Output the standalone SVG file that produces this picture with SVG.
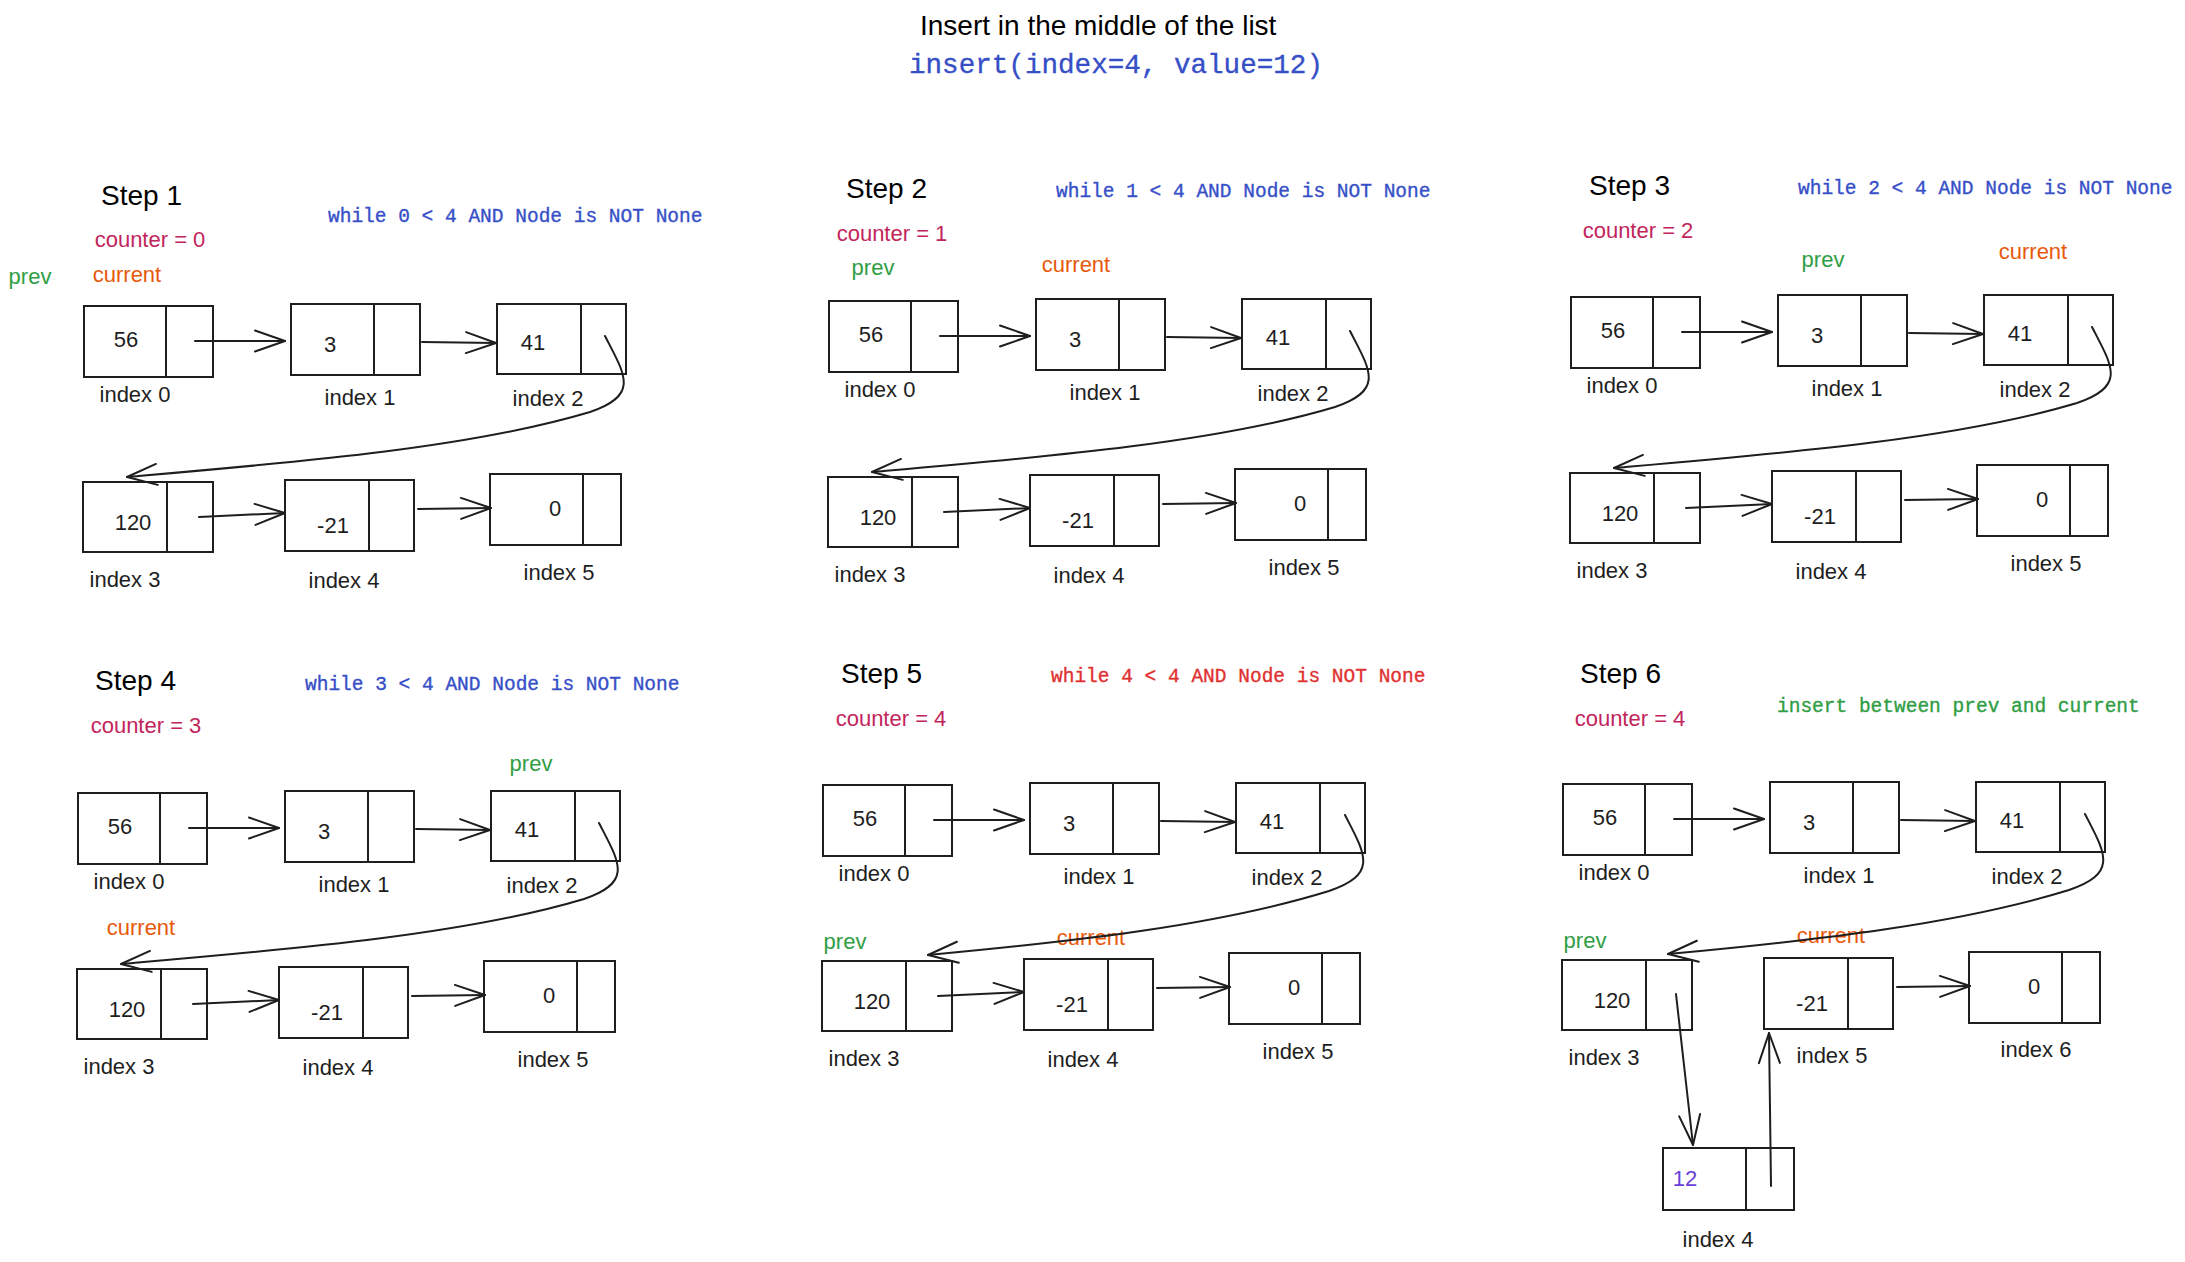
<svg xmlns="http://www.w3.org/2000/svg" width="2185" height="1262" viewBox="0 0 2185 1262">
<defs>
<style>
.node rect,.node line{fill:none;stroke:#1e1e1e;stroke-width:2}
.val,.lbl,.ptr{font-family:"Liberation Sans",Arial,sans-serif;font-size:22px;text-anchor:middle;fill:#1e1e1e}
.title{font-family:"Liberation Sans",Arial,sans-serif;font-size:28px;fill:#000}
.code{font-family:"Liberation Mono","DejaVu Sans Mono",monospace;font-size:19.5px;stroke-width:0.35px}
.blue{fill:#364fc7;stroke:#364fc7}
.red{fill:#e03131;stroke:#e03131}
.green{fill:#2f9e44}
.code.green{stroke:#2f9e44}
.counter{fill:#c2255c}
.cur{fill:#e8590c}
.purple{fill:#6741d9}
.conn path{fill:none;stroke:#1e1e1e;stroke-width:2;stroke-linecap:round;marker-end:url(#ah)}
</style>
<marker id="ah" markerUnits="userSpaceOnUse" markerWidth="40" markerHeight="30" viewBox="-35 -15 40 30" refX="0" refY="0" orient="auto" overflow="visible">
<path d="M-30,-10.5 L0,0 L-30,10.5" fill="none" stroke="#1e1e1e" stroke-width="2" stroke-linecap="round" stroke-linejoin="round"/>
</marker>
</defs>
<rect x="0" y="0" width="2185" height="1262" fill="#ffffff"/>

<g id="header">
<text class="title" x="920" y="35">Insert in the middle of the list</text>
<text class="code blue" x="909" y="73" style="font-size:27.6px">insert(index=4, value=12)</text>
</g>

<g id="captions">
<text class="title" x="101" y="205">Step 1</text>
<text class="code blue" x="328" y="222">while 0 &lt; 4 AND Node is NOT None</text>
<text class="ptr counter" x="150" y="247">counter = 0</text>
<text class="ptr green" x="30" y="284">prev</text>
<text class="ptr cur" x="127" y="282">current</text>

<text class="title" x="846" y="198">Step 2</text>
<text class="code blue" x="1056" y="197">while 1 &lt; 4 AND Node is NOT None</text>
<text class="ptr counter" x="892" y="241">counter = 1</text>
<text class="ptr green" x="873" y="275">prev</text>
<text class="ptr cur" x="1076" y="272">current</text>

<text class="title" x="1589" y="195">Step 3</text>
<text class="code blue" x="1798" y="194">while 2 &lt; 4 AND Node is NOT None</text>
<text class="ptr counter" x="1638" y="238">counter = 2</text>
<text class="ptr green" x="1823" y="267">prev</text>
<text class="ptr cur" x="2033" y="259">current</text>

<text class="title" x="95" y="690">Step 4</text>
<text class="code blue" x="305" y="690">while 3 &lt; 4 AND Node is NOT None</text>
<text class="ptr counter" x="146" y="733">counter = 3</text>
<text class="ptr green" x="531" y="771">prev</text>
<text class="ptr cur" x="141" y="935">current</text>

<text class="title" x="841" y="683">Step 5</text>
<text class="code red" x="1051" y="682">while 4 &lt; 4 AND Node is NOT None</text>
<text class="ptr counter" x="891" y="726">counter = 4</text>
<text class="ptr green" x="845" y="949">prev</text>
<text class="ptr cur" x="1091" y="945">current</text>

<text class="title" x="1580" y="683">Step 6</text>
<text class="code green" x="1777" y="712">insert between prev and current</text>
<text class="ptr counter" x="1630" y="726">counter = 4</text>
<text class="ptr green" x="1585" y="948">prev</text>
<text class="ptr cur" x="1831" y="943">current</text>
</g>

<g id="step1" transform="translate(0,0)">
<g id="s1-n0" class="node"><rect x="84" y="306" width="129" height="71"/><line x1="166" y1="306" x2="166" y2="377"/><text class="val" x="126" y="347">56</text><text class="lbl" x="135" y="402">index 0</text></g>
<g id="s1-n1" class="node"><rect x="291" y="304" width="129" height="71"/><line x1="374" y1="304" x2="374" y2="375"/><text class="val" x="330" y="352">3</text><text class="lbl" x="360" y="405">index 1</text></g>
<g id="s1-n2" class="node"><rect x="497" y="304" width="129" height="70"/><line x1="581" y1="304" x2="581" y2="374"/><text class="val" x="533" y="350">41</text><text class="lbl" x="548" y="406">index 2</text></g>
<g id="s1-n3" class="node"><rect x="83" y="482" width="130" height="70"/><line x1="167" y1="482" x2="167" y2="552"/><text class="val" x="133" y="530">120</text><text class="lbl" x="125" y="587">index 3</text></g>
<g id="s1-n4" class="node"><rect x="285" y="480" width="129" height="71"/><line x1="369" y1="480" x2="369" y2="551"/><text class="val" x="333" y="533">-21</text><text class="lbl" x="344" y="588">index 4</text></g>
<g id="s1-n5" class="node"><rect x="490" y="474" width="131" height="71"/><line x1="583" y1="474" x2="583" y2="545"/><text class="val" x="555" y="516">0</text><text class="lbl" x="559" y="580">index 5</text></g>
</g>

<g id="step2" transform="translate(745,-5)">
<g id="s2-n0" class="node"><rect x="84" y="306" width="129" height="71"/><line x1="166" y1="306" x2="166" y2="377"/><text class="val" x="126" y="347">56</text><text class="lbl" x="135" y="402">index 0</text></g>
<g id="s2-n1" class="node"><rect x="291" y="304" width="129" height="71"/><line x1="374" y1="304" x2="374" y2="375"/><text class="val" x="330" y="352">3</text><text class="lbl" x="360" y="405">index 1</text></g>
<g id="s2-n2" class="node"><rect x="497" y="304" width="129" height="70"/><line x1="581" y1="304" x2="581" y2="374"/><text class="val" x="533" y="350">41</text><text class="lbl" x="548" y="406">index 2</text></g>
<g id="s2-n3" class="node"><rect x="83" y="482" width="130" height="70"/><line x1="167" y1="482" x2="167" y2="552"/><text class="val" x="133" y="530">120</text><text class="lbl" x="125" y="587">index 3</text></g>
<g id="s2-n4" class="node"><rect x="285" y="480" width="129" height="71"/><line x1="369" y1="480" x2="369" y2="551"/><text class="val" x="333" y="533">-21</text><text class="lbl" x="344" y="588">index 4</text></g>
<g id="s2-n5" class="node"><rect x="490" y="474" width="131" height="71"/><line x1="583" y1="474" x2="583" y2="545"/><text class="val" x="555" y="516">0</text><text class="lbl" x="559" y="580">index 5</text></g>
</g>

<g id="step3" transform="translate(1487,-9)">
<g id="s3-n0" class="node"><rect x="84" y="306" width="129" height="71"/><line x1="166" y1="306" x2="166" y2="377"/><text class="val" x="126" y="347">56</text><text class="lbl" x="135" y="402">index 0</text></g>
<g id="s3-n1" class="node"><rect x="291" y="304" width="129" height="71"/><line x1="374" y1="304" x2="374" y2="375"/><text class="val" x="330" y="352">3</text><text class="lbl" x="360" y="405">index 1</text></g>
<g id="s3-n2" class="node"><rect x="497" y="304" width="129" height="70"/><line x1="581" y1="304" x2="581" y2="374"/><text class="val" x="533" y="350">41</text><text class="lbl" x="548" y="406">index 2</text></g>
<g id="s3-n3" class="node"><rect x="83" y="482" width="130" height="70"/><line x1="167" y1="482" x2="167" y2="552"/><text class="val" x="133" y="530">120</text><text class="lbl" x="125" y="587">index 3</text></g>
<g id="s3-n4" class="node"><rect x="285" y="480" width="129" height="71"/><line x1="369" y1="480" x2="369" y2="551"/><text class="val" x="333" y="533">-21</text><text class="lbl" x="344" y="588">index 4</text></g>
<g id="s3-n5" class="node"><rect x="490" y="474" width="131" height="71"/><line x1="583" y1="474" x2="583" y2="545"/><text class="val" x="555" y="516">0</text><text class="lbl" x="559" y="580">index 5</text></g>
</g>

<g id="step4" transform="translate(-6,487)">
<g id="s4-n0" class="node"><rect x="84" y="306" width="129" height="71"/><line x1="166" y1="306" x2="166" y2="377"/><text class="val" x="126" y="347">56</text><text class="lbl" x="135" y="402">index 0</text></g>
<g id="s4-n1" class="node"><rect x="291" y="304" width="129" height="71"/><line x1="374" y1="304" x2="374" y2="375"/><text class="val" x="330" y="352">3</text><text class="lbl" x="360" y="405">index 1</text></g>
<g id="s4-n2" class="node"><rect x="497" y="304" width="129" height="70"/><line x1="581" y1="304" x2="581" y2="374"/><text class="val" x="533" y="350">41</text><text class="lbl" x="548" y="406">index 2</text></g>
<g id="s4-n3" class="node"><rect x="83" y="482" width="130" height="70"/><line x1="167" y1="482" x2="167" y2="552"/><text class="val" x="133" y="530">120</text><text class="lbl" x="125" y="587">index 3</text></g>
<g id="s4-n4" class="node"><rect x="285" y="480" width="129" height="71"/><line x1="369" y1="480" x2="369" y2="551"/><text class="val" x="333" y="533">-21</text><text class="lbl" x="344" y="588">index 4</text></g>
<g id="s4-n5" class="node"><rect x="490" y="474" width="131" height="71"/><line x1="583" y1="474" x2="583" y2="545"/><text class="val" x="555" y="516">0</text><text class="lbl" x="559" y="580">index 5</text></g>
</g>

<g id="step5" transform="translate(739,479)">
<g id="s5-n0" class="node"><rect x="84" y="306" width="129" height="71"/><line x1="166" y1="306" x2="166" y2="377"/><text class="val" x="126" y="347">56</text><text class="lbl" x="135" y="402">index 0</text></g>
<g id="s5-n1" class="node"><rect x="291" y="304" width="129" height="71"/><line x1="374" y1="304" x2="374" y2="375"/><text class="val" x="330" y="352">3</text><text class="lbl" x="360" y="405">index 1</text></g>
<g id="s5-n2" class="node"><rect x="497" y="304" width="129" height="70"/><line x1="581" y1="304" x2="581" y2="374"/><text class="val" x="533" y="350">41</text><text class="lbl" x="548" y="406">index 2</text></g>
<g id="s5-n3" class="node"><rect x="83" y="482" width="130" height="70"/><line x1="167" y1="482" x2="167" y2="552"/><text class="val" x="133" y="530">120</text><text class="lbl" x="125" y="587">index 3</text></g>
<g id="s5-n4" class="node"><rect x="285" y="480" width="129" height="71"/><line x1="369" y1="480" x2="369" y2="551"/><text class="val" x="333" y="533">-21</text><text class="lbl" x="344" y="588">index 4</text></g>
<g id="s5-n5" class="node"><rect x="490" y="474" width="131" height="71"/><line x1="583" y1="474" x2="583" y2="545"/><text class="val" x="555" y="516">0</text><text class="lbl" x="559" y="580">index 5</text></g>
</g>

<g id="step6" transform="translate(1479,478)">
<g id="s6-n0" class="node"><rect x="84" y="306" width="129" height="71"/><line x1="166" y1="306" x2="166" y2="377"/><text class="val" x="126" y="347">56</text><text class="lbl" x="135" y="402">index 0</text></g>
<g id="s6-n1" class="node"><rect x="291" y="304" width="129" height="71"/><line x1="374" y1="304" x2="374" y2="375"/><text class="val" x="330" y="352">3</text><text class="lbl" x="360" y="405">index 1</text></g>
<g id="s6-n2" class="node"><rect x="497" y="304" width="129" height="70"/><line x1="581" y1="304" x2="581" y2="374"/><text class="val" x="533" y="350">41</text><text class="lbl" x="548" y="406">index 2</text></g>
<g id="s6-n3" class="node"><rect x="83" y="482" width="130" height="70"/><line x1="167" y1="482" x2="167" y2="552"/><text class="val" x="133" y="530">120</text><text class="lbl" x="125" y="587">index 3</text></g>
<g id="s6-n5" class="node"><rect x="285" y="480" width="129" height="71"/><line x1="369" y1="480" x2="369" y2="551"/><text class="val" x="333" y="533">-21</text><text class="lbl" x="353" y="585">index 5</text></g>
<g id="s6-n6" class="node"><rect x="490" y="474" width="131" height="71"/><line x1="583" y1="474" x2="583" y2="545"/><text class="val" x="555" y="516">0</text><text class="lbl" x="557" y="579">index 6</text></g>
<g id="s6-n4" class="node"><rect x="184" y="670" width="131" height="62"/><line x1="267" y1="670" x2="267" y2="732"/><text class="val purple" x="206" y="708">12</text><text class="lbl" x="239" y="769">index 4</text></g>
</g>

<g id="connectors" class="conn">
<g transform="translate(0,0)">
<path d="M195,341 L285,341"/><path d="M422,342 L496,343"/>
<path d="M605,336 C625,375 640,395 590,412 C470,448 300,462 127,477"/>
<path d="M199,517 L285,513"/><path d="M418,509 L491,508"/>
</g>
<g transform="translate(745,-5)">
<path d="M195,341 L285,341"/><path d="M422,342 L496,343"/>
<path d="M605,336 C625,375 640,395 590,412 C470,448 300,462 127,477"/>
<path d="M199,517 L285,513"/><path d="M418,509 L491,508"/>
</g>
<g transform="translate(1487,-9)">
<path d="M195,341 L285,341"/><path d="M422,342 L496,343"/>
<path d="M605,336 C625,375 640,395 590,412 C470,448 300,462 127,477"/>
<path d="M199,517 L285,513"/><path d="M418,509 L491,508"/>
</g>
<g transform="translate(-6,487)">
<path d="M195,341 L285,341"/><path d="M422,342 L496,343"/>
<path d="M605,336 C625,375 640,395 590,412 C470,448 300,462 127,477"/>
<path d="M199,517 L285,513"/><path d="M418,509 L491,508"/>
</g>
<g transform="translate(739,479)">
<path d="M195,341 L285,341"/><path d="M422,342 L496,343"/>
<path d="M606,336 C626,375 640,395 590,412 C480,446 340,462 189,476"/>
<path d="M199,517 L285,513"/><path d="M418,509 L491,508"/>
</g>
<g transform="translate(1479,478)">
<path d="M195,341 L285,341"/><path d="M422,342 L496,343"/>
<path d="M606,336 C626,375 640,395 590,412 C480,446 340,462 189,476"/>
<path d="M418,509 L491,508"/>
<path d="M197,516 L214,667"/>
<path d="M292,708 L290,555"/>
</g>
</g>
</svg>
